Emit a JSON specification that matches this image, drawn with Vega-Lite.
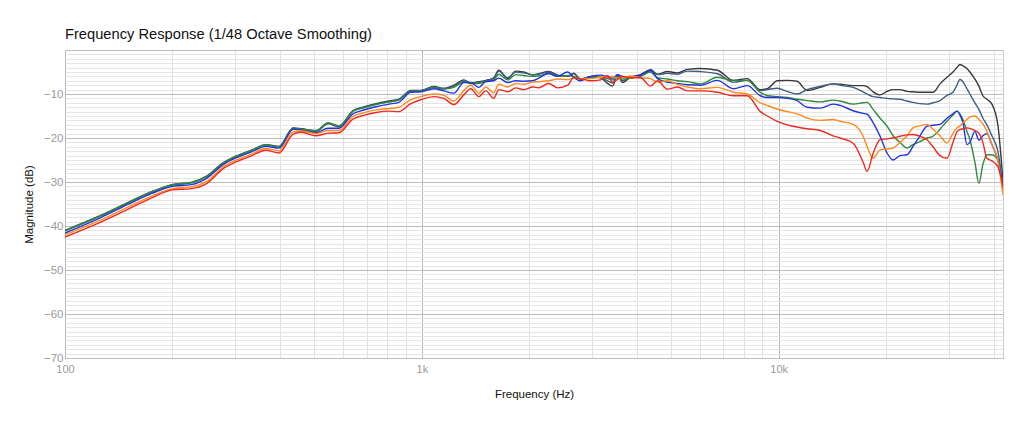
{
  "$schema": "https://vega.github.io/schema/vega-lite/v6.json",
  "autosize": "none",
  "width": 938,
  "height": 308,
  "padding": {"left": 65, "top": 50, "right": 21, "bottom": 69},
  "title": {"text": "Frequency Response (1/48 Octave Smoothing)", "anchor": "start", "frame": "group", "fontSize": 14.7, "fontWeight": "normal", "color": "#111111", "offset": 2},
  "data": {"values": [
    {"f":100,"s":"a","db":-41.0},{"f":126,"s":"a","db":-37.6},{"f":150,"s":"a","db":-34.7},{"f":175,"s":"a","db":-32.2},{"f":200,"s":"a","db":-30.6},{"f":226,"s":"a","db":-30.1},{"f":250,"s":"a","db":-28.6},{"f":278,"s":"a","db":-25.6},{"f":300,"s":"a","db":-24.2},{"f":332,"s":"a","db":-22.8},{"f":366,"s":"a","db":-21.5},{"f":398,"s":"a","db":-21.9},{"f":436,"s":"a","db":-17.7},{"f":460,"s":"a","db":-17.9},{"f":505,"s":"a","db":-18.4},{"f":546,"s":"a","db":-16.6},{"f":586,"s":"a","db":-17.3},{"f":641,"s":"a","db":-13.8},{"f":684,"s":"a","db":-13.0},{"f":744,"s":"a","db":-12.2},{"f":809,"s":"a","db":-11.6},{"f":862,"s":"a","db":-11.2},{"f":931,"s":"a","db":-9.2},
    {"f":993,"s":"a","db":-9.2},{"f":1080,"s":"a","db":-8.3},{"f":1152,"s":"a","db":-8.7},{"f":1229,"s":"a","db":-8.0},{"f":1311,"s":"a","db":-6.8},{"f":1371,"s":"a","db":-7.5},{"f":1444,"s":"a","db":-7.2},{"f":1510,"s":"a","db":-6.9},{"f":1590,"s":"a","db":-6.3},{"f":1642,"s":"a","db":-4.6},{"f":1740,"s":"a","db":-6.5},{"f":1832,"s":"a","db":-4.8},{"f":1929,"s":"a","db":-5.0},{"f":2044,"s":"a","db":-5.7},{"f":2125,"s":"a","db":-5.4},{"f":2266,"s":"a","db":-4.9},{"f":2401,"s":"a","db":-5.7},{"f":2561,"s":"a","db":-6.0},{"f":2662,"s":"a","db":-5.3},{"f":2785,"s":"a","db":-6.7},{"f":2970,"s":"a","db":-6.0},{"f":3168,"s":"a","db":-6.3},{"f":3313,"s":"a","db":-7.6},{"f":3422,"s":"a","db":-8.2},{"f":3534,"s":"a","db":-5.6},{"f":3650,"s":"a","db":-7.4},{"f":3842,"s":"a","db":-6.2},{"f":4099,"s":"a","db":-5.6},{"f":4372,"s":"a","db":-4.5},{"f":4573,"s":"a","db":-5.5},{"f":4878,"s":"a","db":-4.9},{"f":5202,"s":"a","db":-5.2},{"f":5548,"s":"a","db":-4.4},{"f":6031,"s":"a","db":-4.2},
    {"f":6730,"s":"a","db":-4.6},{"f":7460,"s":"a","db":-6.9},{"f":8160,"s":"a","db":-6.5},{"f":8880,"s":"a","db":-9.0},{"f":9290,"s":"a","db":-8.8},{"f":9900,"s":"a","db":-7.0},{"f":10560,"s":"a","db":-6.9},{"f":11260,"s":"a","db":-7.1},{"f":12010,"s":"a","db":-9.2},{"f":13070,"s":"a","db":-8.5},{"f":14200,"s":"a","db":-7.7},{"f":14860,"s":"a","db":-7.8},{"f":16160,"s":"a","db":-8.1},{"f":17240,"s":"a","db":-8.1},{"f":17690,"s":"a","db":-8.3},{"f":18380,"s":"a","db":-9.5},{"f":19230,"s":"a","db":-10.2},{"f":20110,"s":"a","db":-9.4},{"f":20910,"s":"a","db":-9.0},{"f":21870,"s":"a","db":-9.0},{"f":22880,"s":"a","db":-9.4},{"f":23780,"s":"a","db":-9.5},{"f":24880,"s":"a","db":-9.6},{"f":26030,"s":"a","db":-9.6},{"f":27060,"s":"a","db":-9.6},{"f":28300,"s":"a","db":-7.7},{"f":29610,"s":"a","db":-6.2},{"f":30770,"s":"a","db":-5.0},{"f":31570,"s":"a","db":-4.0},{"f":32190,"s":"a","db":-3.3},{"f":32820,"s":"a","db":-3.6},{"f":33680,"s":"a","db":-4.2},{"f":34330,"s":"a","db":-5.0},{"f":35450,"s":"a","db":-6.6},{"f":36380,"s":"a","db":-8.2},{"f":37330,"s":"a","db":-10.4},{"f":38300,"s":"a","db":-11.2},{"f":39560,"s":"a","db":-12.3},{"f":41110,"s":"a","db":-17.0},{"f":42500,"s":"a","db":-30.0},

    {"f":100,"s":"b","db":-41.1},{"f":126,"s":"b","db":-37.7},{"f":150,"s":"b","db":-34.8},{"f":175,"s":"b","db":-32.3},{"f":200,"s":"b","db":-30.7},{"f":226,"s":"b","db":-30.2},{"f":250,"s":"b","db":-28.7},{"f":278,"s":"b","db":-25.7},{"f":300,"s":"b","db":-24.3},{"f":332,"s":"b","db":-22.9},{"f":366,"s":"b","db":-21.6},{"f":398,"s":"b","db":-22.0},{"f":436,"s":"b","db":-17.8},{"f":460,"s":"b","db":-18.0},{"f":505,"s":"b","db":-18.5},{"f":546,"s":"b","db":-16.8},{"f":586,"s":"b","db":-17.5},{"f":641,"s":"b","db":-13.9},{"f":684,"s":"b","db":-13.1},{"f":744,"s":"b","db":-12.3},{"f":809,"s":"b","db":-11.8},{"f":862,"s":"b","db":-11.3},{"f":931,"s":"b","db":-9.3},
    {"f":993,"s":"b","db":-9.3},{"f":1080,"s":"b","db":-8.4},{"f":1152,"s":"b","db":-8.8},{"f":1229,"s":"b","db":-8.2},{"f":1311,"s":"b","db":-7.0},{"f":1371,"s":"b","db":-7.6},{"f":1444,"s":"b","db":-7.4},{"f":1510,"s":"b","db":-7.0},{"f":1590,"s":"b","db":-6.5},{"f":1642,"s":"b","db":-4.8},{"f":1740,"s":"b","db":-6.3},{"f":1832,"s":"b","db":-5.0},{"f":1929,"s":"b","db":-5.2},{"f":2044,"s":"b","db":-5.6},{"f":2125,"s":"b","db":-5.5},{"f":2266,"s":"b","db":-5.0},{"f":2401,"s":"b","db":-5.8},{"f":2561,"s":"b","db":-6.0},{"f":2662,"s":"b","db":-5.4},{"f":2785,"s":"b","db":-6.6},{"f":2970,"s":"b","db":-6.1},{"f":3168,"s":"b","db":-6.2},{"f":3313,"s":"b","db":-7.0},{"f":3422,"s":"b","db":-7.5},{"f":3534,"s":"b","db":-5.9},{"f":3650,"s":"b","db":-7.0},{"f":3842,"s":"b","db":-6.2},{"f":4099,"s":"b","db":-5.8},{"f":4372,"s":"b","db":-4.8},{"f":4573,"s":"b","db":-5.6},{"f":4878,"s":"b","db":-5.3},{"f":5202,"s":"b","db":-5.5},{"f":5548,"s":"b","db":-4.8},{"f":6031,"s":"b","db":-4.9},
    {"f":6730,"s":"b","db":-5.4},{"f":7460,"s":"b","db":-7.3},{"f":8160,"s":"b","db":-6.9},{"f":8880,"s":"b","db":-9.2},{"f":9290,"s":"b","db":-9.0},{"f":9900,"s":"b","db":-8.7},{"f":10560,"s":"b","db":-9.4},{"f":11260,"s":"b","db":-10.0},{"f":12010,"s":"b","db":-9.0},{"f":13070,"s":"b","db":-8.3},{"f":14200,"s":"b","db":-7.7},{"f":14860,"s":"b","db":-8.0},{"f":16160,"s":"b","db":-8.5},{"f":17240,"s":"b","db":-9.5},{"f":17690,"s":"b","db":-10.0},{"f":18380,"s":"b","db":-10.6},{"f":19230,"s":"b","db":-10.8},{"f":20110,"s":"b","db":-11.0},{"f":20910,"s":"b","db":-11.1},{"f":21870,"s":"b","db":-11.2},{"f":22880,"s":"b","db":-11.6},{"f":23780,"s":"b","db":-11.9},{"f":24880,"s":"b","db":-12.2},{"f":26030,"s":"b","db":-12.3},{"f":27060,"s":"b","db":-12.0},{"f":28300,"s":"b","db":-11.5},{"f":29610,"s":"b","db":-10.3},{"f":30770,"s":"b","db":-9.6},{"f":31570,"s":"b","db":-8.0},{"f":32190,"s":"b","db":-6.7},{"f":32820,"s":"b","db":-7.2},{"f":33680,"s":"b","db":-8.8},{"f":34330,"s":"b","db":-10.0},{"f":35450,"s":"b","db":-12.0},{"f":36380,"s":"b","db":-13.5},{"f":37330,"s":"b","db":-15.5},{"f":38300,"s":"b","db":-17.0},{"f":39560,"s":"b","db":-19.5},{"f":41110,"s":"b","db":-23.0},{"f":42500,"s":"b","db":-31.0},

    {"f":100,"s":"c","db":-41.0},{"f":126,"s":"c","db":-37.6},{"f":150,"s":"c","db":-34.7},{"f":175,"s":"c","db":-32.2},{"f":200,"s":"c","db":-30.6},{"f":226,"s":"c","db":-30.1},{"f":250,"s":"c","db":-28.7},{"f":278,"s":"c","db":-25.7},{"f":300,"s":"c","db":-24.3},{"f":332,"s":"c","db":-22.9},{"f":366,"s":"c","db":-21.6},{"f":398,"s":"c","db":-22.0},{"f":436,"s":"c","db":-17.8},{"f":460,"s":"c","db":-18.0},{"f":505,"s":"c","db":-18.3},{"f":546,"s":"c","db":-16.6},{"f":586,"s":"c","db":-17.2},{"f":641,"s":"c","db":-13.9},{"f":684,"s":"c","db":-13.2},{"f":744,"s":"c","db":-12.4},{"f":809,"s":"c","db":-11.8},{"f":862,"s":"c","db":-11.4},{"f":931,"s":"c","db":-9.4},
    {"f":993,"s":"c","db":-9.3},{"f":1080,"s":"c","db":-8.5},{"f":1152,"s":"c","db":-8.9},{"f":1229,"s":"c","db":-8.5},{"f":1311,"s":"c","db":-7.2},{"f":1371,"s":"c","db":-7.6},{"f":1444,"s":"c","db":-7.6},{"f":1510,"s":"c","db":-7.2},{"f":1590,"s":"c","db":-6.8},{"f":1642,"s":"c","db":-5.5},{"f":1740,"s":"c","db":-6.8},{"f":1832,"s":"c","db":-5.6},{"f":1929,"s":"c","db":-5.8},{"f":2044,"s":"c","db":-6.0},{"f":2125,"s":"c","db":-5.9},{"f":2266,"s":"c","db":-5.4},{"f":2401,"s":"c","db":-6.0},{"f":2561,"s":"c","db":-5.8},{"f":2662,"s":"c","db":-6.0},{"f":2785,"s":"c","db":-6.6},{"f":2970,"s":"c","db":-6.2},{"f":3168,"s":"c","db":-6.2},{"f":3313,"s":"c","db":-6.5},{"f":3422,"s":"c","db":-6.8},{"f":3534,"s":"c","db":-6.3},{"f":3650,"s":"c","db":-6.6},{"f":3842,"s":"c","db":-6.4},{"f":4099,"s":"c","db":-6.0},{"f":4372,"s":"c","db":-5.0},{"f":4573,"s":"c","db":-6.3},{"f":4878,"s":"c","db":-6.6},{"f":5202,"s":"c","db":-7.0},{"f":5548,"s":"c","db":-7.2},{"f":6031,"s":"c","db":-7.7},
    {"f":6730,"s":"c","db":-6.2},{"f":7460,"s":"c","db":-6.9},{"f":8160,"s":"c","db":-6.9},{"f":8880,"s":"c","db":-9.6},{"f":9290,"s":"c","db":-10.4},{"f":9900,"s":"c","db":-10.6},{"f":10560,"s":"c","db":-10.8},{"f":11260,"s":"c","db":-11.2},{"f":12010,"s":"c","db":-11.5},{"f":13070,"s":"c","db":-11.8},{"f":14200,"s":"c","db":-11.4},{"f":14860,"s":"c","db":-11.6},{"f":16160,"s":"c","db":-12.3},{"f":17240,"s":"c","db":-12.0},{"f":17690,"s":"c","db":-11.9},{"f":18380,"s":"c","db":-13.5},{"f":19230,"s":"c","db":-15.5},{"f":20110,"s":"c","db":-17.3},{"f":20910,"s":"c","db":-19.5},{"f":21870,"s":"c","db":-21.0},{"f":22880,"s":"c","db":-22.3},{"f":23780,"s":"c","db":-21.5},{"f":24880,"s":"c","db":-20.8},{"f":26030,"s":"c","db":-20.0},{"f":27060,"s":"c","db":-19.6},{"f":28300,"s":"c","db":-18.0},{"f":29610,"s":"c","db":-16.2},{"f":30770,"s":"c","db":-14.8},{"f":31570,"s":"c","db":-13.9},{"f":32190,"s":"c","db":-14.5},{"f":32820,"s":"c","db":-15.8},{"f":33680,"s":"c","db":-18.5},{"f":34330,"s":"c","db":-20.4},{"f":35450,"s":"c","db":-25.5},{"f":36380,"s":"c","db":-30.3},{"f":37330,"s":"c","db":-26.0},{"f":38300,"s":"c","db":-23.8},{"f":39560,"s":"c","db":-23.8},{"f":41110,"s":"c","db":-25.0},{"f":42500,"s":"c","db":-32.0},

    {"f":100,"s":"d","db":-41.6},{"f":126,"s":"d","db":-38.1},{"f":150,"s":"d","db":-35.1},{"f":175,"s":"d","db":-32.6},{"f":200,"s":"d","db":-31.0},{"f":226,"s":"d","db":-30.6},{"f":250,"s":"d","db":-29.1},{"f":278,"s":"d","db":-26.0},{"f":300,"s":"d","db":-24.6},{"f":332,"s":"d","db":-23.2},{"f":366,"s":"d","db":-21.9},{"f":398,"s":"d","db":-22.3},{"f":436,"s":"d","db":-18.0},{"f":460,"s":"d","db":-18.2},{"f":505,"s":"d","db":-18.8},{"f":546,"s":"d","db":-17.8},{"f":586,"s":"d","db":-17.8},{"f":641,"s":"d","db":-14.5},{"f":684,"s":"d","db":-13.7},{"f":744,"s":"d","db":-12.9},{"f":809,"s":"d","db":-12.3},{"f":862,"s":"d","db":-11.9},{"f":931,"s":"d","db":-9.6},
    {"f":993,"s":"d","db":-9.5},{"f":1080,"s":"d","db":-8.8},{"f":1152,"s":"d","db":-9.3},{"f":1229,"s":"d","db":-9.8},{"f":1311,"s":"d","db":-7.4},{"f":1371,"s":"d","db":-7.4},{"f":1444,"s":"d","db":-8.5},{"f":1510,"s":"d","db":-7.2},{"f":1590,"s":"d","db":-7.0},{"f":1642,"s":"d","db":-6.4},{"f":1740,"s":"d","db":-7.4},{"f":1832,"s":"d","db":-7.0},{"f":1929,"s":"d","db":-7.1},{"f":2044,"s":"d","db":-7.0},{"f":2125,"s":"d","db":-6.4},{"f":2266,"s":"d","db":-5.3},{"f":2401,"s":"d","db":-6.0},{"f":2561,"s":"d","db":-5.0},{"f":2662,"s":"d","db":-6.2},{"f":2785,"s":"d","db":-7.0},{"f":2970,"s":"d","db":-6.0},{"f":3168,"s":"d","db":-5.7},{"f":3313,"s":"d","db":-6.2},{"f":3422,"s":"d","db":-6.4},{"f":3534,"s":"d","db":-5.6},{"f":3650,"s":"d","db":-6.0},{"f":3842,"s":"d","db":-6.2},{"f":4099,"s":"d","db":-5.7},{"f":4372,"s":"d","db":-4.6},{"f":4573,"s":"d","db":-6.5},{"f":4878,"s":"d","db":-7.3},{"f":5202,"s":"d","db":-7.6},{"f":5548,"s":"d","db":-7.9},{"f":6031,"s":"d","db":-8.0},
    {"f":6730,"s":"d","db":-6.9},{"f":7460,"s":"d","db":-8.8},{"f":8160,"s":"d","db":-8.1},{"f":8880,"s":"d","db":-10.4},{"f":9290,"s":"d","db":-10.8},{"f":9900,"s":"d","db":-10.8},{"f":10560,"s":"d","db":-11.0},{"f":11260,"s":"d","db":-11.5},{"f":12010,"s":"d","db":-13.0},{"f":13070,"s":"d","db":-13.2},{"f":14200,"s":"d","db":-12.3},{"f":14860,"s":"d","db":-12.6},{"f":16160,"s":"d","db":-13.8},{"f":17240,"s":"d","db":-14.4},{"f":17690,"s":"d","db":-14.6},{"f":18380,"s":"d","db":-16.5},{"f":19230,"s":"d","db":-19.6},{"f":20110,"s":"d","db":-23.4},{"f":20910,"s":"d","db":-25.0},{"f":21870,"s":"d","db":-24.0},{"f":22880,"s":"d","db":-23.8},{"f":23780,"s":"d","db":-21.9},{"f":24880,"s":"d","db":-19.5},{"f":26030,"s":"d","db":-17.3},{"f":27060,"s":"d","db":-17.1},{"f":28300,"s":"d","db":-16.9},{"f":29610,"s":"d","db":-15.5},{"f":30770,"s":"d","db":-14.5},{"f":31570,"s":"d","db":-13.9},{"f":32190,"s":"d","db":-14.8},{"f":32820,"s":"d","db":-16.5},{"f":33680,"s":"d","db":-21.5},{"f":34330,"s":"d","db":-21.0},{"f":35450,"s":"d","db":-18.5},{"f":36380,"s":"d","db":-20.5},{"f":37330,"s":"d","db":-19.5},{"f":38300,"s":"d","db":-19.0},{"f":39560,"s":"d","db":-21.5},{"f":41110,"s":"d","db":-25.0},{"f":42500,"s":"d","db":-31.0},

    {"f":100,"s":"e","db":-42.0},{"f":126,"s":"e","db":-38.6},{"f":150,"s":"e","db":-35.7},{"f":175,"s":"e","db":-33.2},{"f":200,"s":"e","db":-31.5},{"f":226,"s":"e","db":-31.1},{"f":250,"s":"e","db":-29.8},{"f":278,"s":"e","db":-26.5},{"f":300,"s":"e","db":-25.1},{"f":332,"s":"e","db":-23.7},{"f":366,"s":"e","db":-22.4},{"f":398,"s":"e","db":-22.9},{"f":436,"s":"e","db":-18.6},{"f":460,"s":"e","db":-18.4},{"f":505,"s":"e","db":-19.0},{"f":546,"s":"e","db":-18.3},{"f":586,"s":"e","db":-18.3},{"f":641,"s":"e","db":-15.1},{"f":684,"s":"e","db":-14.3},{"f":744,"s":"e","db":-13.6},{"f":809,"s":"e","db":-13.3},{"f":862,"s":"e","db":-13.0},{"f":931,"s":"e","db":-11.3},
    {"f":993,"s":"e","db":-10.6},{"f":1080,"s":"e","db":-10.0},{"f":1152,"s":"e","db":-10.3},{"f":1229,"s":"e","db":-11.6},{"f":1311,"s":"e","db":-9.2},{"f":1371,"s":"e","db":-8.0},{"f":1444,"s":"e","db":-9.8},{"f":1510,"s":"e","db":-8.4},{"f":1590,"s":"e","db":-9.7},{"f":1642,"s":"e","db":-7.8},{"f":1740,"s":"e","db":-8.4},{"f":1832,"s":"e","db":-7.6},{"f":1929,"s":"e","db":-7.8},{"f":2044,"s":"e","db":-7.3},{"f":2125,"s":"e","db":-7.2},{"f":2266,"s":"e","db":-7.0},{"f":2401,"s":"e","db":-6.6},{"f":2561,"s":"e","db":-6.7},{"f":2662,"s":"e","db":-6.4},{"f":2785,"s":"e","db":-6.5},{"f":2970,"s":"e","db":-6.5},{"f":3168,"s":"e","db":-6.2},{"f":3313,"s":"e","db":-6.1},{"f":3422,"s":"e","db":-6.0},{"f":3534,"s":"e","db":-6.4},{"f":3650,"s":"e","db":-6.3},{"f":3842,"s":"e","db":-5.9},{"f":4099,"s":"e","db":-6.3},{"f":4372,"s":"e","db":-6.5},{"f":4573,"s":"e","db":-7.3},{"f":4878,"s":"e","db":-7.0},{"f":5202,"s":"e","db":-7.8},{"f":5548,"s":"e","db":-8.4},{"f":6031,"s":"e","db":-8.8},
    {"f":6730,"s":"e","db":-8.5},{"f":7460,"s":"e","db":-9.6},{"f":8160,"s":"e","db":-10.0},{"f":8880,"s":"e","db":-12.0},{"f":9290,"s":"e","db":-12.6},{"f":9900,"s":"e","db":-13.4},{"f":10560,"s":"e","db":-14.0},{"f":11260,"s":"e","db":-14.5},{"f":12010,"s":"e","db":-15.5},{"f":13070,"s":"e","db":-16.0},{"f":14200,"s":"e","db":-15.8},{"f":14860,"s":"e","db":-16.2},{"f":16160,"s":"e","db":-16.9},{"f":17240,"s":"e","db":-19.6},{"f":17690,"s":"e","db":-22.0},{"f":18380,"s":"e","db":-24.6},{"f":19230,"s":"e","db":-22.7},{"f":20110,"s":"e","db":-22.5},{"f":20910,"s":"e","db":-22.3},{"f":21870,"s":"e","db":-21.0},{"f":22880,"s":"e","db":-19.5},{"f":23780,"s":"e","db":-17.7},{"f":24880,"s":"e","db":-17.2},{"f":26030,"s":"e","db":-16.9},{"f":27060,"s":"e","db":-18.0},{"f":28300,"s":"e","db":-19.5},{"f":29610,"s":"e","db":-21.1},{"f":30770,"s":"e","db":-19.0},{"f":31570,"s":"e","db":-17.7},{"f":32190,"s":"e","db":-17.3},{"f":32820,"s":"e","db":-16.5},{"f":33680,"s":"e","db":-15.8},{"f":34330,"s":"e","db":-15.2},{"f":35450,"s":"e","db":-15.0},{"f":36380,"s":"e","db":-15.8},{"f":37330,"s":"e","db":-16.8},{"f":38300,"s":"e","db":-18.5},{"f":39560,"s":"e","db":-21.5},{"f":41110,"s":"e","db":-25.0},{"f":42500,"s":"e","db":-33.0},

    {"f":100,"s":"r","db":-42.5},{"f":126,"s":"r","db":-39.1},{"f":150,"s":"r","db":-36.2},{"f":175,"s":"r","db":-33.6},{"f":200,"s":"r","db":-31.8},{"f":226,"s":"r","db":-31.5},{"f":250,"s":"r","db":-30.3},{"f":278,"s":"r","db":-26.9},{"f":300,"s":"r","db":-25.5},{"f":332,"s":"r","db":-24.1},{"f":366,"s":"r","db":-22.8},{"f":398,"s":"r","db":-23.4},{"f":436,"s":"r","db":-19.1},{"f":460,"s":"r","db":-18.7},{"f":505,"s":"r","db":-19.5},{"f":546,"s":"r","db":-18.9},{"f":586,"s":"r","db":-18.8},{"f":641,"s":"r","db":-15.7},{"f":684,"s":"r","db":-14.9},{"f":744,"s":"r","db":-14.2},{"f":809,"s":"r","db":-13.9},{"f":862,"s":"r","db":-14.0},{"f":931,"s":"r","db":-12.2},
    {"f":993,"s":"r","db":-11.3},{"f":1080,"s":"r","db":-10.6},{"f":1152,"s":"r","db":-11.0},{"f":1229,"s":"r","db":-12.4},{"f":1311,"s":"r","db":-10.2},{"f":1371,"s":"r","db":-8.8},{"f":1444,"s":"r","db":-10.6},{"f":1510,"s":"r","db":-9.3},{"f":1590,"s":"r","db":-11.0},{"f":1642,"s":"r","db":-9.0},{"f":1740,"s":"r","db":-9.5},{"f":1832,"s":"r","db":-8.6},{"f":1929,"s":"r","db":-9.0},{"f":2044,"s":"r","db":-8.4},{"f":2125,"s":"r","db":-8.6},{"f":2266,"s":"r","db":-7.6},{"f":2401,"s":"r","db":-8.6},{"f":2561,"s":"r","db":-8.0},{"f":2662,"s":"r","db":-6.3},{"f":2785,"s":"r","db":-6.5},{"f":2970,"s":"r","db":-7.0},{"f":3168,"s":"r","db":-6.8},{"f":3313,"s":"r","db":-5.8},{"f":3422,"s":"r","db":-7.3},{"f":3534,"s":"r","db":-6.7},{"f":3650,"s":"r","db":-6.0},{"f":3842,"s":"r","db":-6.3},{"f":4099,"s":"r","db":-6.3},{"f":4372,"s":"r","db":-8.2},{"f":4573,"s":"r","db":-7.0},{"f":4878,"s":"r","db":-8.9},{"f":5202,"s":"r","db":-8.4},{"f":5548,"s":"r","db":-9.3},{"f":6031,"s":"r","db":-9.3},
    {"f":6730,"s":"r","db":-9.6},{"f":7460,"s":"r","db":-10.4},{"f":8160,"s":"r","db":-10.4},{"f":8880,"s":"r","db":-14.0},{"f":9290,"s":"r","db":-15.0},{"f":9900,"s":"r","db":-16.2},{"f":10560,"s":"r","db":-17.0},{"f":11260,"s":"r","db":-17.5},{"f":12010,"s":"r","db":-17.9},{"f":13070,"s":"r","db":-18.3},{"f":14200,"s":"r","db":-19.5},{"f":14860,"s":"r","db":-20.0},{"f":16160,"s":"r","db":-21.2},{"f":17240,"s":"r","db":-25.5},{"f":17690,"s":"r","db":-27.6},{"f":18380,"s":"r","db":-23.5},{"f":19230,"s":"r","db":-20.4},{"f":20110,"s":"r","db":-20.2},{"f":20910,"s":"r","db":-20.0},{"f":21870,"s":"r","db":-19.6},{"f":22880,"s":"r","db":-19.3},{"f":23780,"s":"r","db":-19.2},{"f":24880,"s":"r","db":-19.6},{"f":26030,"s":"r","db":-20.4},{"f":27060,"s":"r","db":-22.0},{"f":28300,"s":"r","db":-24.0},{"f":29610,"s":"r","db":-24.6},{"f":30770,"s":"r","db":-21.0},{"f":31570,"s":"r","db":-18.6},{"f":32190,"s":"r","db":-18.1},{"f":32820,"s":"r","db":-17.9},{"f":33680,"s":"r","db":-17.7},{"f":34330,"s":"r","db":-17.8},{"f":35450,"s":"r","db":-18.3},{"f":36380,"s":"r","db":-18.9},{"f":37330,"s":"r","db":-21.0},{"f":38300,"s":"r","db":-24.6},{"f":39560,"s":"r","db":-25.2},{"f":41110,"s":"r","db":-26.5},{"f":42500,"s":"r","db":-31.0}
  ]},
  "mark": {"type": "line", "strokeWidth": 1.4, "interpolate": "monotone", "clip": true},
  "encoding": {
    "x": {
      "field": "f", "type": "quantitative",
      "scale": {"type": "log", "domain": [100, 42500], "nice": false},
      "axis": {
        "title": "Frequency (Hz)",
        "values": [100, 200, 300, 400, 500, 600, 700, 800, 900, 1000, 2000, 3000, 4000, 5000, 6000, 7000, 8000, 9000, 10000, 20000, 30000, 40000],
        "labelExpr": "datum.value == 100 ? '100' : datum.value == 1000 ? '1k' : datum.value == 10000 ? '10k' : ''",
        "gridColor": {"condition": {"test": "datum.value == 100 || datum.value == 1000 || datum.value == 10000", "value": "#b5b5b5"}, "value": "#e0e0e0"},
        "ticks": false, "domain": false, "labelFlush": false, "labelOverlap": false,
        "labelColor": "#9a9a9a", "labelFontSize": 11, "labelPadding": 5,
        "titleFontSize": 11.5, "titleFontWeight": "normal", "titleColor": "#111111", "titlePadding": 14
      }
    },
    "y": {
      "field": "db", "type": "quantitative",
      "scale": {"domain": [-70, 0], "nice": false},
      "axis": {
        "title": "Magnitude (dB)",
        "values": [-70, -69, -68, -67, -66, -65, -64, -63, -62, -61, -60, -59, -58, -57, -56, -55, -54, -53, -52, -51, -50, -49, -48, -47, -46, -45, -44, -43, -42, -41, -40, -39, -38, -37, -36, -35, -34, -33, -32, -31, -30, -29, -28, -27, -26, -25, -24, -23, -22, -21, -20, -19, -18, -17, -16, -15, -14, -13, -12, -11, -10, -9, -8, -7, -6, -5, -4, -3, -2, -1, 0],
        "labelExpr": "datum.value % 10 == 0 && datum.value < 0 ? datum.label : ''",
        "gridColor": {"condition": {"test": "datum.value % 10 == 0", "value": "#bdbdbd"}, "value": "#e6e6e6"},
        "ticks": false, "domain": false, "labelOverlap": false, "labelFlush": false,
        "labelColor": "#9a9a9a", "labelFontSize": 11.5, "labelPadding": 2,
        "titleFontSize": 11.5, "titleFontWeight": "normal", "titleColor": "#111111", "titlePadding": 9
      }
    },
    "color": {
      "field": "s", "type": "nominal", "legend": null,
      "scale": {"domain": ["a", "b", "c", "d", "e", "r"], "range": ["#3a3a3a", "#3d5f82", "#2f8a3a", "#2233e6", "#ff8a1e", "#f0281e"]}
    }
  },
  "config": {
    "font": "Liberation Sans",
    "view": {"stroke": "#c8c8c8"}
  }
}
